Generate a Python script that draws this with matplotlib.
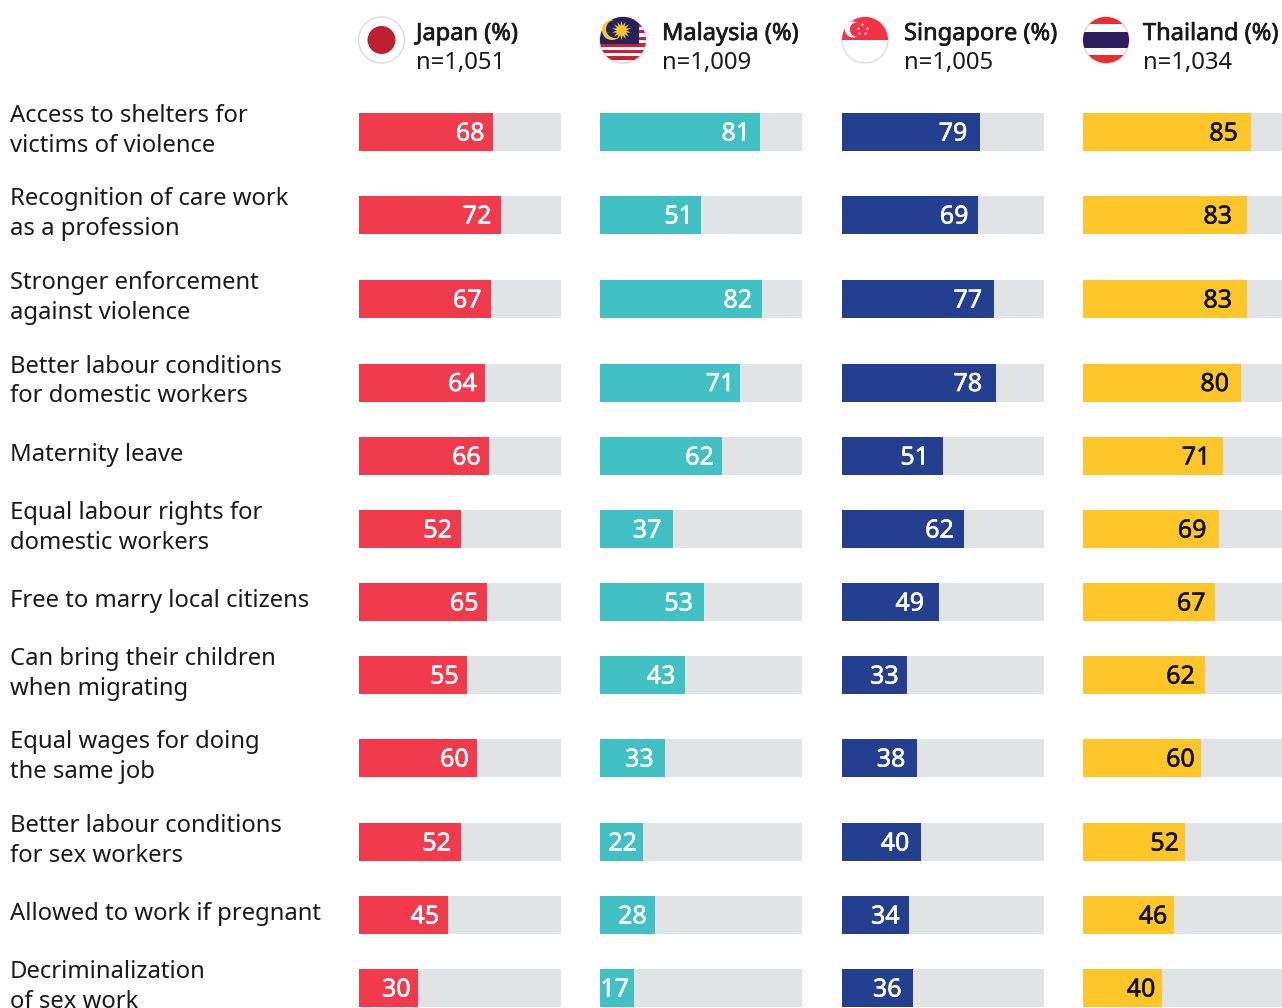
import matplotlib
matplotlib.use("Agg")
import matplotlib.pyplot as plt
import matplotlib.patheffects as pe
from matplotlib.patches import Circle, Rectangle

plt.rcParams['font.family'] = ['Noto Sans', 'DejaVu Sans']

categories = [
    "Access to shelters for\nvictims of violence",
    "Recognition of care work\nas a profession",
    "Stronger enforcement\nagainst violence",
    "Better labour conditions\nfor domestic workers",
    "Maternity leave",
    "Equal labour rights for\ndomestic workers",
    "Free to marry local citizens",
    "Can bring their children\nwhen migrating",
    "Equal wages for doing\nthe same job",
    "Better labour conditions\nfor sex workers",
    "Allowed to work if pregnant",
    "Decriminalization\nof sex work",
]
countries = ["Japan (%)", "Malaysia (%)", "Singapore (%)", "Thailand (%)"]
sample_sizes = ["n=1,051", "n=1,009", "n=1,005", "n=1,034"]

japan = [68, 72, 67, 64, 66, 52, 65, 55, 60, 52, 45, 30]
malaysia = [81, 51, 82, 71, 62, 37, 53, 43, 33, 22, 28, 17]
singapore = [79, 69, 77, 78, 51, 62, 49, 33, 38, 40, 34, 36]
thailand = [85, 83, 83, 80, 71, 69, 67, 62, 60, 52, 46, 40]
# Drawn length of the bars where it differs from the printed figure
singapore_drawn = [70, 69, 77, 78, 51, 62, 49, 33, 38, 40, 34, 36]

series_labels = [japan, malaysia, singapore, thailand]
series_lengths = [japan, malaysia, singapore_drawn, thailand]

# Layout (pixels in the 1282x1008 figure)
W, H = 1282, 1008
row_centers = [132, 215, 299, 382.5, 456, 529, 602, 675, 758, 842, 915, 988]
label_gaps = [
    [10, 11, 11, 10, 10, 11, 10, 10, 10, 12, 10, 9],
    [11, 9, 11, 7, 10, 13, 13, 11, 13, 8, 10, 6],
    [14, 11, 13, 15, 15, 12, 16, 10, 13, 13, 11, 13],
    [14, 16, 16, 13, 14, 14, 11, 12, 8, 8, 8, 8],
]
panel_left = [359, 600, 842, 1083]
panel_width = 202
track_units = 102.5
bar_px = 38
colors = ["#F23A4D", "#41C1C3", "#243E90", "#FFC629"]
value_colors = ["white", "white", "white", "#111111"]
track_color = "#E2E3E5"
text_color = "#1A1A1A"
flag_cx = [381.5, 623, 865, 1106]
header_x = [416, 662, 904, 1143]
flag_r = 23

fig = plt.figure(figsize=(W / 100, H / 100), dpi=100, facecolor="white")

for i in range(4):
    ax = fig.add_axes([panel_left[i] / W, 0, panel_width / W, 1])
    ax.set_xlim(0, track_units)
    ax.set_ylim(H, 0)
    ax.axis("off")
    ax.barh(row_centers, [track_units] * 12, height=bar_px, color=track_color, linewidth=0)
    ax.barh(row_centers, series_lengths[i], height=bar_px, color=colors[i], linewidth=0)
    for y, length, label, gap in zip(row_centers, series_lengths[i], series_labels[i], label_gaps[i]):
        t = ax.annotate(str(label), (length, y), xytext=(-(gap - 1.5) * 0.72, 0.7),
                        textcoords="offset points", ha="right", va="center_baseline",
                        fontsize=18, color=value_colors[i])
        t.set_path_effects([pe.withStroke(linewidth=0.4, foreground=value_colors[i])])

ov = fig.add_axes([0, 0, 1, 1], facecolor="none")
ov.set_xlim(0, W)
ov.set_ylim(H, 0)
ov.axis("off")

for y, cat in zip(row_centers, categories):
    ov.text(10, y - 1.0, cat, ha="left", va="center", fontsize=17.2, color=text_color,
            linespacing=1.3)

for x, c, n in zip(header_x, countries, sample_sizes):
    t = ov.text(x, 40, c, ha="left", va="baseline", fontsize=17, color=text_color)
    t.set_path_effects([pe.withStroke(linewidth=0.5, foreground=text_color)])
    ov.text(x, 69, n, ha="left", va="baseline", fontsize=17.2, color=text_color)


def flag_base(cx, edge):
    clip = Circle((cx, 40), flag_r, transform=ov.transData, facecolor="white",
                  edgecolor=edge, linewidth=1, zorder=2)
    ov.add_patch(clip)
    return clip


def band(cx, y0, y1, color, clip, x0=None, x1=None, z=3):
    left = cx - flag_r if x0 is None else x0
    right = cx + flag_r if x1 is None else x1
    r = Rectangle((left, y0), right - left, y1 - y0, facecolor=color, linewidth=0, zorder=z)
    ov.add_patch(r)
    r.set_clip_path(clip)


# Japan
flag_base(flag_cx[0], "#DDDDDD")
ov.add_patch(Circle((flag_cx[0], 40), 14, facecolor="#BE2033", linewidth=0, zorder=3))

# Malaysia
clip = flag_base(flag_cx[1], "#F3C9CC")
for k in range(14):
    if k % 2 == 0:
        band(flag_cx[1], 17 + k * 46 / 14, 17 + (k + 1) * 46 / 14, "#CC2030", clip)
band(flag_cx[1], 17, 43.5, "#25235F", clip, x1=639, z=4)
ov.add_patch(Circle((612, 30), 10, facecolor="#FFC72C", linewidth=0, zorder=5))
ov.add_patch(Circle((615, 29), 9, facecolor="#25235F", linewidth=0, zorder=6))
ov.plot([621], [30], marker=(14, 1, 0), markersize=14, color="#FFC72C", mew=0, zorder=7)

# Singapore
clip = flag_base(flag_cx[2], "#DDDDDD")
band(flag_cx[2], 17, 40, "#F23245", clip)
ov.add_patch(Circle((853, 29.5), 8, facecolor="white", linewidth=0, zorder=5))
ov.add_patch(Circle((857, 29.5), 7.2, facecolor="#F23245", linewidth=0, zorder=6))
ov.scatter([862, 857.5, 866.5, 859, 865], [24, 27.5, 27.5, 33, 33], s=7, marker="*",
           color="white", linewidths=0, zorder=7)

# Thailand
clip = flag_base(flag_cx[3], "#F3C9CC")
band(flag_cx[3], 17, 23.5, "#EE2A2E", clip)
band(flag_cx[3], 32, 48, "#2A1F5C", clip)
band(flag_cx[3], 55, 63, "#EE2A2E", clip)

fig.savefig("out.png", dpi=100, facecolor="white")
